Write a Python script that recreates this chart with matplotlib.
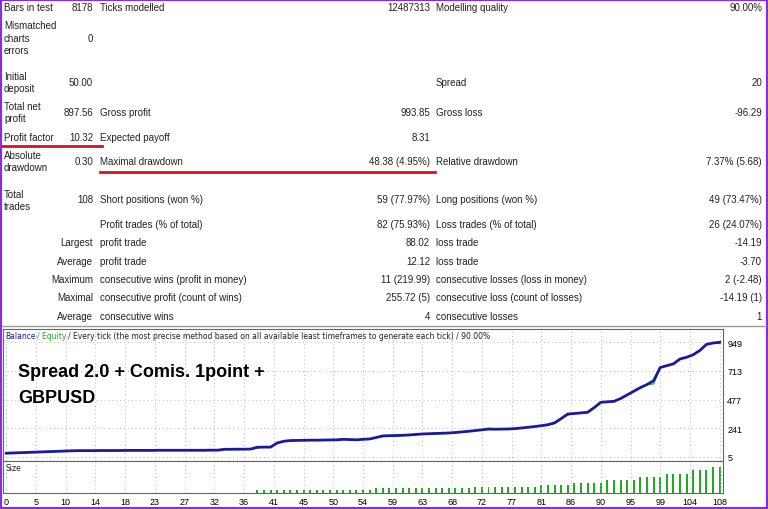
import matplotlib
matplotlib.use("Agg")
import matplotlib.pyplot as plt
from matplotlib.patches import Rectangle
from matplotlib.lines import Line2D

W, H = 768, 510
balance = [36,38,40,42, 44,46,48,50,52,54,56,57,
           57,57,58,58,58,58,59,59,59,59,59,60,60,60,60,60,60,60,60,61,61,
           68,68,69,69,70, 85,86,86, 120,134,140, 141,142,143,143,144,
           145,146,150,148,146,150,153, 165,178, 180,181,183, 186,190,194,
           196,198,200,202, 206,211,216, 222,228,235, 233,234,235, 238,243,249,
           255,262,270, 285,320,358, 362,367,372, 410,454, 458,462, 485,515,
           545,575,600,632, 740,755,770,810,824,845,880,930,941,947]
equity = [36,38,40,42, 44,46,48,50,52,54,56,57,
          57,57,58,58,58,58,59,59,59,59,59,60,60,60,60,60,60,60,60,61,61,
          68,68,69,69,70, 80,86,86, 120,134,140, 141,142,143,143,144,
          145,140,150,148,146,150,153, 165,178, 180,181,183, 186,190,194,
          196,198,200,202, 206,211,216, 222,228,230, 233,234,235, 238,243,249,
          255,262,270, 280,320,350, 362,367,372, 410,454, 458,462, 485,515,
          545,575,600,605, 740,755,770,810,824,845,880,930,941,937]
size = [0]*38 + [0.1]*18 + [0.18]*15 + [0.25]*10 + [0.3]*5 + [0.4]*5 + [0.5]*5 + \
       [0.62]*4 + [0.75]*4 + [0.88]*3 + [1.0]*2
xtick_labels = ["0","5","10","14","18","23","27","32","36","41","45","50","54","59",
                "63","68","72","77","81","86","90","95","99","104","108"]
ytick_values = [5, 241, 477, 713, 949]

rows = [
    (8,   [(4,"Bars in test","left"),(93,"8178","right"),(100,"Ticks modelled","left"),
           (430,"12487313","right"),(436,"Modelling quality","left"),(762,"90.00%","right")]),
    (26,  [(4,"Mismatched","left")]),
    (39,  [(4,"charts","left"),(93,"0","right")]),
    (51,  [(4,"errors","left")]),
    (77,  [(4,"Initial","left")]),
    (83,  [(93,"50.00","right"),(436,"Spread","left"),(762,"20","right")]),
    (89,  [(4,"deposit","left")]),
    (107, [(4,"Total net","left")]),
    (113, [(93,"897.56","right"),(100,"Gross profit","left"),(430,"993.85","right"),
           (436,"Gross loss","left"),(762,"-96.29","right")]),
    (119, [(4,"profit","left")]),
    (138, [(4,"Profit factor","left"),(93,"10.32","right"),(100,"Expected payoff","left"),
           (430,"8.31","right")]),
    (156, [(4,"Absolute","left")]),
    (162, [(93,"0.30","right"),(100,"Maximal drawdown","left"),(430,"48.38 (4.95%)","right"),
           (436,"Relative drawdown","left"),(762,"7.37% (5.68)","right")]),
    (168, [(4,"drawdown","left")]),
    (195, [(4,"Total","left")]),
    (200, [(93,"108","right"),(100,"Short positions (won %)","left"),(430,"59 (77.97%)","right"),
           (436,"Long positions (won %)","left"),(762,"49 (73.47%)","right")]),
    (207, [(4,"trades","left")]),
    (225, [(100,"Profit trades (% of total)","left"),(430,"82 (75.93%)","right"),
           (436,"Loss trades (% of total)","left"),(762,"26 (24.07%)","right")]),
    (243, [(93,"Largest","right"),(100,"profit trade","left"),(430,"88.02","right"),
           (436,"loss trade","left"),(762,"-14.19","right")]),
    (262, [(93,"Average","right"),(100,"profit trade","left"),(430,"12.12","right"),
           (436,"loss trade","left"),(762,"-3.70","right")]),
    (280, [(93,"Maximum","right"),(100,"consecutive wins (profit in money)","left"),(430,"11 (219.99)","right"),
           (436,"consecutive losses (loss in money)","left"),(762,"2 (-2.48)","right")]),
    (298, [(93,"Maximal","right"),(100,"consecutive profit (count of wins)","left"),(430,"255.72 (5)","right"),
           (436,"consecutive loss (count of losses)","left"),(762,"-14.19 (1)","right")]),
    (317, [(93,"Average","right"),(100,"consecutive wins","left"),(430,"4","right"),
           (436,"consecutive losses","left"),(762,"1","right")]),
]

fig = plt.figure(figsize=(W/100, H/100), dpi=100)
fig.patch.set_facecolor("white")

def fx(x): return x / W
def fy(y): return 1 - y / H

for y, items in rows:
    for x, t, ha in items:
        fig.text(fx(x), fy(y), t, ha=ha, va="center", fontsize=7,
                 family="Liberation Sans", color="#222222")

fig.add_artist(Line2D([fx(2), fx(102)], [fy(147), fy(147)], color="#d81020", lw=2))
fig.add_artist(Line2D([fx(100), fx(435)], [fy(173), fy(173)], color="#d81020", lw=2))
fig.add_artist(Line2D([fx(2), fx(766)], [fy(327), fy(327)], color="#999999", lw=1))

ax = fig.add_axes([fx(3), fy(462), fx(720), fy(330) - fy(462)])
x = list(range(len(balance)))
ax.plot(x, equity, color="#22bb22", lw=1.0)
ax.plot(x, balance, color="#1a1aa0", lw=2.0)
ax.set_xlim(-0.5, 108.5)
ax.set_ylim(-28, 1056)
xt = [i * 4.5 for i in range(len(xtick_labels))]
ax.set_xticks(xt)
ax.set_xticklabels([])
ax.set_yticks(ytick_values)
ax.yaxis.tick_right()
ax.set_yticklabels([str(v) for v in ytick_values], fontsize=6.5, family="Liberation Sans")
ax.tick_params(axis="both", length=0, pad=3)
ax.grid(True, color="#bbbbbb", ls=(0, (1, 3)), lw=0.7)
for s in ax.spines.values():
    s.set_color("#666666"); s.set_linewidth(0.8)
ax.text(0.003, 0.95, "Balance", transform=ax.transAxes, fontsize=5.5, color="#1a1aa0", va="center")
ax.text(0.047, 0.95, "/ Equity", transform=ax.transAxes, fontsize=5.5, color="#22aa22", va="center")
ax.text(0.090, 0.95, "/ Every tick (the most precise method based on all available least timeframes to generate each tick) / 90.00%",
        transform=ax.transAxes, fontsize=5.5, color="#222222", va="center")
ax.text(0.021, 0.68, "Spread 2.0 + Comis. 1point +", transform=ax.transAxes, fontsize=13,
        fontweight="bold", va="center", family="Liberation Sans")
ax.text(0.021, 0.48, "GBPUSD", transform=ax.transAxes, fontsize=13,
        fontweight="bold", va="center", family="Liberation Sans")

ax2 = fig.add_axes([fx(3), fy(494), fx(720), fy(462) - fy(494)])
ax2.bar(x, size, width=0.3, color="#22aa22")
ax2.set_xlim(-0.5, 108.5)
ax2.set_ylim(0, 1.25)
ax2.set_xticks(xt)
ax2.set_xticklabels(xtick_labels, fontsize=6.5, family="Liberation Sans")
ax2.set_yticks([])
ax2.tick_params(axis="x", length=0, pad=3)
ax2.grid(True, axis="x", color="#bbbbbb", ls=(0, (1, 3)), lw=0.7)
for s in ax2.spines.values():
    s.set_color("#666666"); s.set_linewidth(0.8)
ax2.text(0.003, 0.8, "Size", transform=ax2.transAxes, fontsize=5.5, color="#222222", va="center")

fig.add_artist(Rectangle((0, 0), 1, 1, transform=fig.transFigure, fill=False,
                         edgecolor="#8a2be2", lw=3))

fig.savefig("out.png", dpi=100)
